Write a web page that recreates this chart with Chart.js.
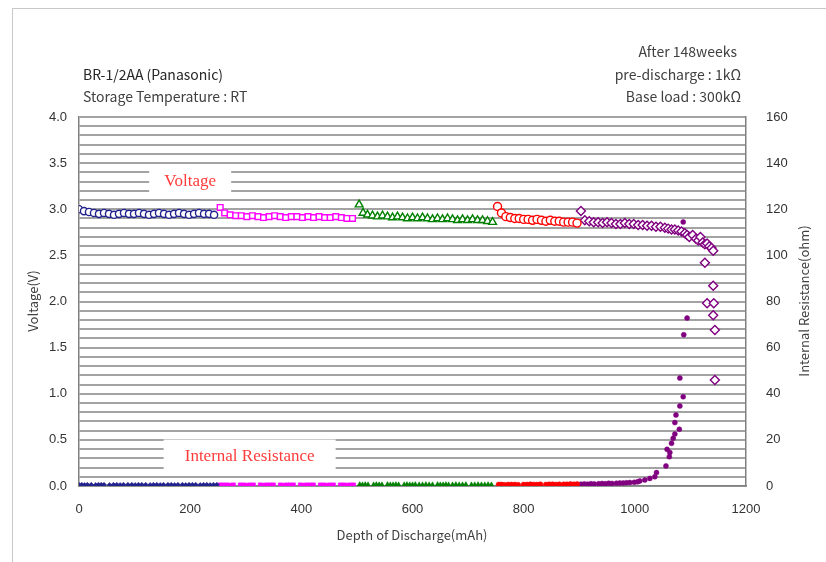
<!DOCTYPE html>
<html>
<head>
<meta charset="utf-8">
<script src="https://cdn.jsdelivr.net/npm/chart.js@4.4.1/dist/chart.umd.min.js"></script>
<style>
  html,body{margin:0;padding:0;background:#fff;overflow:hidden;}
  #wrap{position:absolute;left:0;top:0;width:826px;height:562px;}
  #frame{position:absolute;left:12px;top:8px;width:830px;height:570px;border:1px solid #c8c8c8;box-sizing:border-box;}
  canvas{position:absolute;left:0;top:0;}
</style>
</head>
<body>
<div id="wrap">
  <div id="frame"></div>
  <canvas id="c" width="826" height="562"></canvas>
</div>
<script>
// ---------- DATA ----------
// Voltage (V), open markers, by discharge segment
const voltBlueX = [0,9,18,27,36,45,54,63,72,81,90,99,108,117,126,135,144,153,162,171,180,189,198,207,216,225,234,243];
const voltBlueY = [3.00,2.98,2.97,2.96,2.95,2.96,2.95,2.94,2.95,2.96,2.95,2.95,2.96,2.95,2.94,2.95,2.96,2.95,2.94,2.95,2.96,2.95,2.94,2.95,2.96,2.95,2.95,2.94];

const voltMagentaX = [254,262,272,282,292,302,312,322,332,342,352,362,372,382,392,402,412,422,432,442,452,462,472,482,492];
const voltMagentaY = [3.02,2.96,2.94,2.93,2.93,2.92,2.93,2.92,2.91,2.92,2.93,2.92,2.91,2.92,2.92,2.91,2.92,2.91,2.92,2.91,2.91,2.92,2.91,2.90,2.90];

const voltGreenX = [504,511,519,528,537,546,555,564,573,582,591,600,609,618,627,636,645,654,663,672,681,690,699,708,717,726,735,744];
const voltGreenY = [3.05,2.96,2.94,2.93,2.92,2.93,2.92,2.91,2.92,2.91,2.90,2.91,2.90,2.91,2.90,2.89,2.90,2.89,2.90,2.89,2.88,2.89,2.88,2.89,2.88,2.88,2.87,2.86];

const voltRedX = [753,760,768,776,784,792,800,808,816,824,832,840,848,856,864,872,880,888,896];
const voltRedY = [3.03,2.96,2.92,2.91,2.90,2.90,2.89,2.89,2.88,2.89,2.88,2.87,2.88,2.87,2.87,2.86,2.86,2.86,2.85];

const voltPurpleX = [903,910,918,926,934,942,950,958,966,974,982,990,998,1006,1014,1022,1030,1038,1046,1054,1060,1066,1072,1078,1084,1090,1094,1098,1104,1110,1114,1118,1122,1126,1130,1134,1138,1141,1126,1141,1130,1142,1141,1144,1144];
const voltPurpleY = [2.98,2.88,2.87,2.86,2.86,2.85,2.86,2.85,2.84,2.84,2.85,2.84,2.84,2.83,2.83,2.82,2.82,2.81,2.81,2.80,2.79,2.78,2.78,2.77,2.76,2.74,2.72,2.70,2.72,2.68,2.66,2.70,2.64,2.62,2.63,2.60,2.58,2.55,2.42,2.17,1.98,1.98,1.85,1.69,1.15];

// Internal resistance (ohm), filled markers, by discharge segment
const irBlueX = [0,5,10,15,22,30,35,40,45,55,62,68,74,80,88,95,101,107,113,120,128,134,140,146,152,160,166,172,178,186,192,198,204,210,218,224,230,236,242,248];
const irBlueY = [0.5,0.5,0.4,0.5,0.5,0.4,0.5,0.5,0.5,0.4,0.5,0.5,0.4,0.5,0.5,0.5,0.4,0.5,0.5,0.5,0.4,0.5,0.5,0.4,0.5,0.5,0.5,0.4,0.5,0.5,0.4,0.5,0.5,0.5,0.4,0.5,0.5,0.4,0.5,0.5];

const irMagentaX = [254,260,266,272,278,290,296,302,308,314,326,332,338,344,350,362,368,374,380,386,398,404,410,416,422,434,440,446,452,458,470,476,482,488,494];
const irMagentaY = [0.5,0.5,0.5,0.4,0.5,0.5,0.5,0.4,0.5,0.5,0.5,0.4,0.5,0.5,0.5,0.5,0.4,0.5,0.5,0.5,0.5,0.4,0.5,0.5,0.5,0.5,0.5,0.4,0.5,0.5,0.5,0.5,0.4,0.5,0.5];

const irGreenX = [505,510,515,520,530,535,540,545,555,560,565,570,575,585,590,595,600,605,612,618,624,630,636,645,650,655,660,665,672,678,684,690,696,706,712,718,724,730,736,742];
const irGreenY = [0.6,0.5,0.6,0.5,0.5,0.6,0.5,0.5,0.6,0.5,0.5,0.6,0.5,0.5,0.6,0.5,0.5,0.6,0.5,0.5,0.6,0.5,0.5,0.6,0.5,0.5,0.6,0.5,0.5,0.6,0.5,0.5,0.6,0.5,0.5,0.6,0.5,0.5,0.6,0.5];

const irRedX = [755,760,765,772,778,784,790,800,806,812,818,824,830,840,846,852,858,864,872,878,884,890,896];
const irRedY = [0.6,0.6,0.5,0.6,0.6,0.6,0.5,0.6,0.6,0.7,0.6,0.6,0.7,0.6,0.7,0.7,0.6,0.7,0.7,0.7,0.8,0.7,0.8];

const irPurpleX = [903,909,915,921,927,935,941,947,953,959,967,973,979,985,991,999,1005,1009,1018,1027,1036,1039,1056,1062,1063,1058,1066,1069,1072,1080,1072,1074,1081,1087,1081,1088,1094,1087];
const irPurpleY = [0.8,0.9,0.8,1.0,0.9,1.0,1.1,1.0,1.2,1.1,1.2,1.3,1.3,1.4,1.5,1.6,1.8,2.2,2.6,3.3,4.0,5.8,8.7,12.7,14.5,15.9,18.5,20.7,22.5,24.6,27.5,30.8,34.7,38.7,46.8,65.6,72.8,114.5];

// Text
const titleLeft = ["BR-1/2AA (Panasonic)", "Storage Temperature : RT"];
const titleRight = ["After 148weeks", "pre-discharge : 1k\u03A9", "Base load : 300k\u03A9"];
const xAxisTitle = "Depth of Discharge(mAh)";
const yAxisTitle = "Voltage(V)";
const y1AxisTitle = "Internal Resistance(ohm)";
const seriesLabels = ["Voltage", "Internal Resistance"];

// ---------- BUILD ----------
const pts = (xs, ys) => xs.map((x, i) => ({x: x, y: ys[i]}));
const NAVY = '#23238e', MAG = '#ff00ff', GRN = '#008000', RED = '#ff0000', PUR = '#800080';

function vSet(xs, ys, color, style, r) {
  return {data: pts(xs, ys), yAxisID: 'y', showLine: false, pointStyle: style,
    pointRadius: r, pointHoverRadius: r, pointBorderColor: color, pointBackgroundColor: '#ffffff',
    pointBorderWidth: 1.4};
}
function iSet(xs, ys, color, style, r) {
  return {data: pts(xs, ys), yAxisID: 'y1', showLine: false, pointStyle: style,
    pointRadius: r, pointHoverRadius: r, pointBorderColor: color, pointBackgroundColor: color,
    pointBorderWidth: 0.5};
}

const datasets = [
  iSet(irBlueX, irBlueY, NAVY, 'rectRot', 2.6),
  iSet(irMagentaX, irMagentaY, MAG, 'rect', 2.8),
  iSet(irGreenX, irGreenY, GRN, 'triangle', 3),
  iSet(irRedX, irRedY, RED, 'circle', 2.6),
  iSet(irPurpleX, irPurpleY, PUR, 'circle', 2.5),
  vSet(voltBlueX, voltBlueY, NAVY, 'circle', 3.6),
  vSet(voltMagentaX, voltMagentaY, MAG, 'rect', 4),
  vSet(voltGreenX, voltGreenY, GRN, 'triangle', 4.5),
  vSet(voltRedX, voltRedY, RED, 'circle', 4),
  vSet(voltPurpleX, voltPurpleY, PUR, 'rectRot', 4.5)
];

const textPlugin = {
  id: 'texts',
  afterDatasetsDraw(chart) {
    const ctx = chart.ctx, x = chart.scales.x, y = chart.scales.y;
    ctx.save();
    const boxes = [
      {t: seriesLabels[0], cx: x.getPixelForValue(200), cy: y.getPixelForValue(3.31), w: 82, h: 25},
      {t: seriesLabels[1], cx: x.getPixelForValue(307), cy: y.getPixelForValue(0.33), w: 172, h: 32}
    ];
    ctx.font = '17px "Liberation Serif", "DejaVu Serif", serif';
    ctx.textAlign = 'center'; ctx.textBaseline = 'middle';
    boxes.forEach(b => {
      ctx.fillStyle = '#ffffff';
      ctx.fillRect(b.cx - b.w / 2, b.cy - b.h / 2, b.w, b.h);
      ctx.fillStyle = '#ff3b3b';
      ctx.fillText(b.t, b.cx, b.cy + 1);
    });
    ctx.restore();
  },
  afterDraw(chart) {
    const ctx = chart.ctx;
    ctx.save();
    ctx.fillStyle = '#262626';
    ctx.font = '14px "Noto Sans CJK JP", "Liberation Sans", sans-serif';
    ctx.textBaseline = 'middle';
    ctx.textAlign = 'left';
    ctx.fillText(titleLeft[0], 83, 75);
    ctx.fillStyle = '#404040';
    ctx.fillText(titleLeft[1], 83, 97);
    ctx.textAlign = 'right';
    ctx.fillText(titleRight[0], 737, 52);
    ctx.fillText(titleRight[1], 741, 75);
    ctx.fillText(titleRight[2], 741, 97);
    ctx.fillStyle = '#404040';
    ctx.font = '13px "Noto Sans CJK JP", "Liberation Sans", sans-serif';
    ctx.textAlign = 'center';
    ctx.fillText(xAxisTitle, 412, 535);
    ctx.save();
    ctx.translate(33, 301); ctx.rotate(-Math.PI / 2);
    ctx.fillText(yAxisTitle, 0, 0);
    ctx.restore();
    ctx.save();
    ctx.translate(804, 301); ctx.rotate(-Math.PI / 2);
    ctx.fillText(y1AxisTitle, 0, 0);
    ctx.restore();
    ctx.restore();
  }
};

const tickFont = {family: '"Liberation Sans", Arial, sans-serif', size: 13};

new Chart(document.getElementById('c'), {
  type: 'scatter',
  data: {datasets: datasets},
  options: {
    responsive: false, animation: false, devicePixelRatio: 1,
    layout: {padding: {top: 117, left: 0, right: 0, bottom: 0}},
    plugins: {legend: {display: false}, tooltip: {enabled: false}},
    scales: {
      x: {
        type: 'linear', min: 0, max: 1200,
        ticks: {stepSize: 200, color: '#333', font: tickFont, padding: 16,
          callback: v => String(v)},
        grid: {display: false, drawTicks: false},
        border: {display: true, color: '#808080', width: 1.5},
        afterFit: s => { s.height = 76; }
      },
      y: {
        type: 'linear', position: 'left', min: 0, max: 4,
        ticks: {stepSize: 0.1, autoSkip: false, color: '#333', font: tickFont, padding: 12,
          callback: v => (Math.round(v * 10) % 5 === 0 ? (Math.round(v * 10) / 10).toFixed(1) : '')},
        grid: {color: '#a3a3a3', lineWidth: 2, drawTicks: false},
        border: {display: true, color: '#808080', width: 1.5},
        afterFit: s => { s.width = 79; }
      },
      y1: {
        type: 'linear', position: 'right', min: 0, max: 160,
        ticks: {stepSize: 4, autoSkip: false, color: '#333', font: tickFont, padding: 20,
          callback: v => (Math.round(v) % 20 === 0 ? String(Math.round(v)) : '')},
        grid: {display: false, drawTicks: false},
        border: {display: true, color: '#808080', width: 1.5},
        afterFit: s => { s.width = 80; }
      }
    }
  },
  plugins: [textPlugin]
});
</script>
</body>
</html>
